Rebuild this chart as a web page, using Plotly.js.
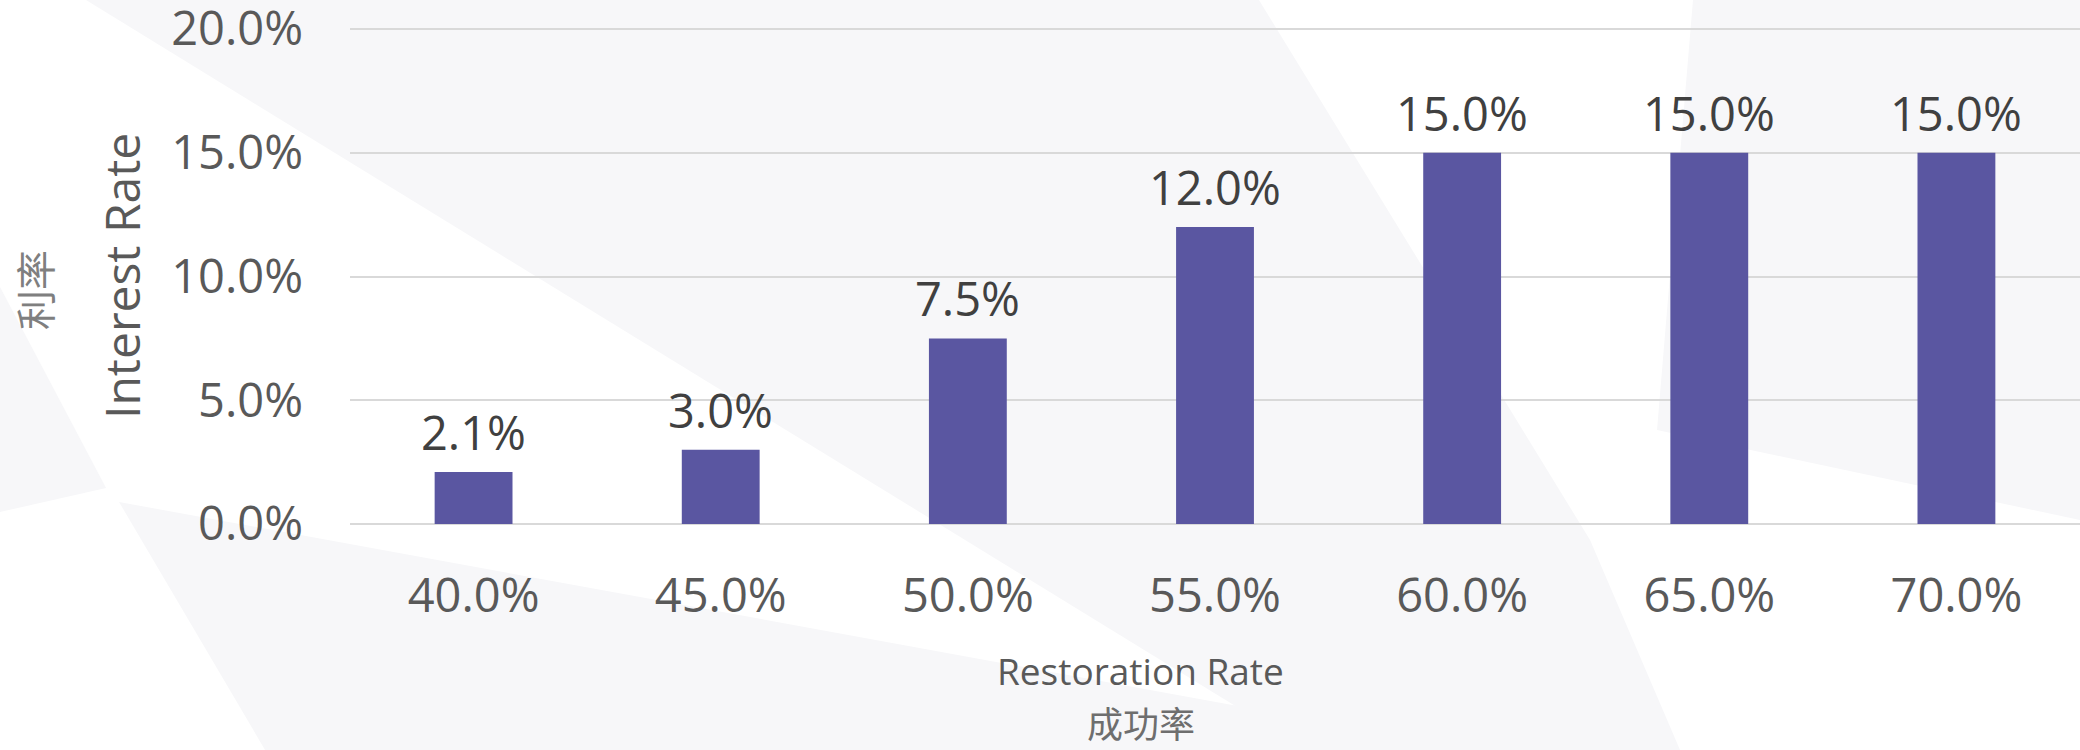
<!DOCTYPE html>
<html>
<head>
<meta charset="utf-8">
<script src="https://cdn.plot.ly/plotly-3.0.1.min.js"></script>
<style>
  html, body { margin: 0; padding: 0; background: #ffffff; }
  #chart { width: 2080px; height: 750px; }
</style>
</head>
<body>
<div id="chart"></div>
<script>
// ---- Data ----
const categories = ["40.0%", "45.0%", "50.0%", "55.0%", "60.0%", "65.0%", "70.0%"];
const interestRates = [0.021, 0.03, 0.075, 0.12, 0.15, 0.15, 0.15];
const valueLabels = ["2.1%", "3.0%", "7.5%", "12.0%", "15.0%", "15.0%", "15.0%"];
const yTickVals = [0, 0.05, 0.10, 0.15, 0.20];
const yTickText = ["0.0%", "5.0%", "10.0%", "15.0%", "20.0%"];
const yMax = 0.20162;

const W = 2080, H = 750;
const M = { l: 350, r: 0, t: 25, b: 226 };
const PW = W - M.l - M.r, PH = H - M.t - M.b;
const FONT = "Segoe UI, 'Open Sans', 'Noto Sans', sans-serif";
const CJK = "'Noto Sans CJK TC', 'Noto Sans CJK SC', sans-serif";

// figure pixel -> paper coordinate helpers (decorative background and titles only)
const px = x => ((x - M.l) / PW).toFixed(4);
const py = y => ((H - M.b - y) / PH).toFixed(4);
function poly(pts) {
  return pts.map((p, i) => (i ? "L" : "M") + px(p[0]) + "," + py(p[1])).join(" ") + " Z";
}
const bgFill = "#f7f7f9";
const bgPolys = [
  [[86, 0], [1259, 0], [1590, 540], [1680, 750], [1307, 750]],
  [[119, 502], [1479, 750], [265, 750]],
  [[0, 287], [106, 488], [0, 512]],
  [[1693, 0], [2080, 0], [2080, 520], [1657, 430]]
];
const shapes = bgPolys.map(p => ({
  type: "path", xref: "paper", yref: "paper", path: poly(p),
  fillcolor: bgFill, line: { width: 0 }, layer: "below"
}));

const trace = {
  type: "bar",
  x: categories,
  y: interestRates,
  marker: { color: "#5a56a1" },
  hoverinfo: "skip"
};

const annotations = categories.map((c, i) => ({
  x: c, y: interestRates[i], xref: "x", yref: "y",
  text: valueLabels[i], showarrow: false,
  xanchor: "center", yanchor: "bottom", yshift: 6,
  font: { family: FONT, size: 47, color: "#404040" }
}));

annotations.push(
  { xref: "paper", yref: "paper", x: px(122), y: py(276), text: "Interest Rate",
    textangle: -90, showarrow: false, xanchor: "center", yanchor: "middle",
    font: { family: FONT, size: 48, color: "#595959" } },
  { xref: "paper", yref: "paper", x: px(34), y: py(290), text: "利率",
    textangle: -90, showarrow: false, xanchor: "center", yanchor: "middle",
    font: { family: CJK, size: 40, color: "#7f7f7f" } },
  { xref: "paper", yref: "paper", x: px(1141), y: py(670), text: "Restoration Rate",
    showarrow: false, xanchor: "center", yanchor: "middle",
    font: { family: FONT, size: 37, color: "#595959" } },
  { xref: "paper", yref: "paper", x: px(1141), y: py(722), text: "成功率",
    showarrow: false, xanchor: "center", yanchor: "middle",
    font: { family: CJK, size: 36, color: "#6e6e6e" } }
);

const layout = {
  width: W, height: H,
  margin: M,
  paper_bgcolor: "#ffffff",
  plot_bgcolor: "rgba(0,0,0,0)",
  showlegend: false,
  bargap: 0.685,
  font: { family: FONT, color: "#595959" },
  xaxis: {
    type: "category",
    showline: false, showgrid: false, zeroline: false, ticks: "",
    tickfont: { family: FONT, size: 47, color: "#595959" },
    ticklabelstandoff: 40,
    fixedrange: true
  },
  yaxis: {
    range: [0, yMax],
    tickvals: yTickVals, ticktext: yTickText,
    showgrid: true, gridcolor: "#d9d9d9", gridwidth: 2,
    zeroline: true, zerolinecolor: "#d9d9d9", zerolinewidth: 2,
    showline: false, ticks: "",
    tickfont: { family: FONT, size: 47, color: "#595959" },
    ticklabelstandoff: 46,
    ticklabeloverflow: "allow",
    fixedrange: true
  },
  shapes: shapes,
  annotations: annotations
};

Plotly.newPlot("chart", [trace], layout, { displayModeBar: false, staticPlot: true });
</script>
</body>
</html>
